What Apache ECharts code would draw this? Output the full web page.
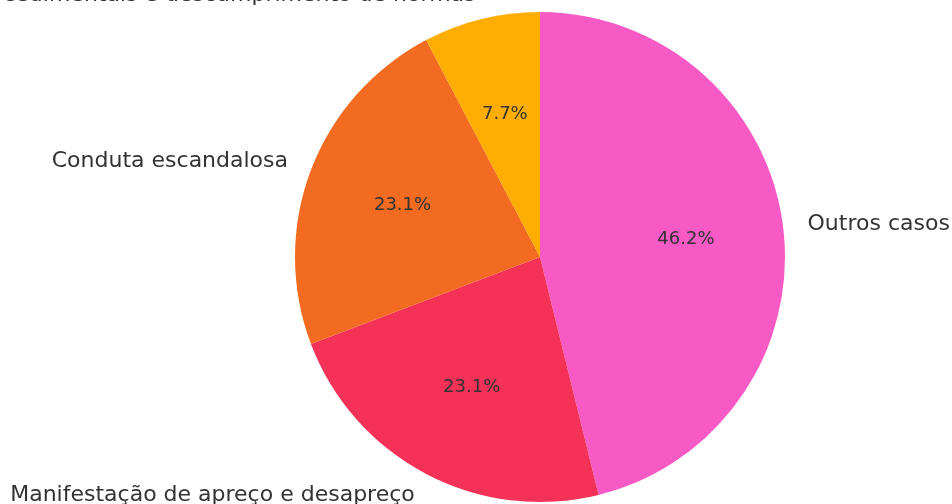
<!DOCTYPE html>
<html>
<head>
<meta charset="utf-8">
<script src="https://cdn.jsdelivr.net/npm/echarts@6/dist/echarts.min.js"></script>
<style>
  html, body { margin: 0; padding: 0; background: #fff; }
  #chart { width: 952px; height: 504px; }
</style>
</head>
<body>
<div id="chart"></div>
<script>
    // categorias e valores (ordem horária a partir do topo)
    var categories = [
        'Outros casos',
        'Manifestação de apreço e desapreço',
        'Conduta escandalosa',
        'Falhas procedimentais e descumprimento de normas'
    ];
    var values = [6, 3, 3, 1];
    var colors = ['#F75AC4', '#F43157', '#F26B21', '#FFAD00'];

    var total = values.reduce(function (a, b) { return a + b; }, 0);

    var pieData = categories.map(function (name, i) {
        var item = { name: name, value: values[i], itemStyle: { color: colors[i] } };
        // o rótulo do topo fica um pouco mais baixo no original
        if (i === 3) {
            item.label = { padding: [11, 0, 0, 0] };
        }
        return item;
    });

    var R = 245;

    var myChart = echarts.init(document.getElementById('chart'));
    var option = {
        animation: false,
        backgroundColor: '#fff',
        series: [
            {
                // pizza principal com rótulos externos
                type: 'pie',
                center: [540, 257],
                radius: [0, R],
                startAngle: 90,
                clockwise: true,
                avoidLabelOverlap: false,
                silent: true,
                emphasis: { disabled: true },
                data: pieData,
                label: {
                    show: true,
                    position: 'outside',
                    formatter: '{b}',
                    fontFamily: 'DejaVu Sans',
                    fontSize: 22,
                    color: '#333',
                    distanceToLabelLine: 0,
                    width: 700,
                    overflow: 'none'
                },
                labelLine: { show: false, length: R * 0.1, length2: 0 }
            },
            {
                // camada invisível só para os percentuais a 0.6R
                type: 'pie',
                center: [540, 257],
                radius: [0, 288],
                startAngle: 90,
                clockwise: true,
                silent: true,
                emphasis: { disabled: true },
                itemStyle: { color: 'rgba(0,0,0,0)' },
                data: categories.map(function (name, i) {
                    return { name: name, value: values[i] };
                }),
                label: {
                    show: true,
                    position: 'inside',
                    formatter: function (p) {
                        return (p.value / total * 100).toFixed(1) + '%';
                    },
                    fontFamily: 'DejaVu Sans',
                    fontSize: 18,
                    color: '#333'
                },
                labelLine: { show: false }
            }
        ]
    };
    myChart.setOption(option);
</script>
</body>
</html>
